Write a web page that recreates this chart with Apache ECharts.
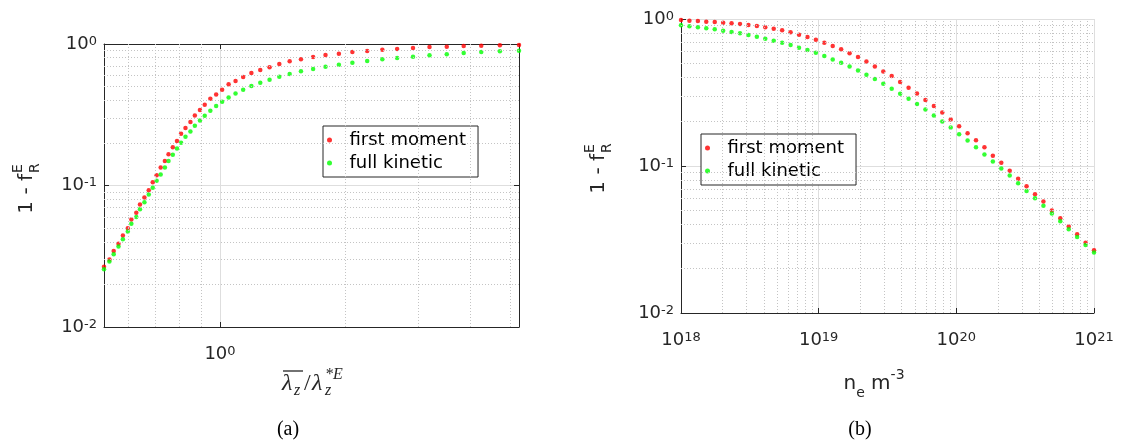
<!DOCTYPE html>
<html lang="en">
<head>
  <meta charset="UTF-8">
  <title>1 - f_R^E</title>
  <script src="https://cdn.jsdelivr.net/npm/echarts@6.0.0/dist/echarts.min.js"></script>
  <style>
    html, body { margin: 0; padding: 0; background: #fff; }
    #chart { width: 1122px; height: 443px; }
  </style>
</head>
<body>
<div id="chart"></div>
<script>
  // (a) horizontal axis: lambda_z bar / lambda_z*E
  const lamRatio = [0.526, 0.542, 0.555, 0.570, 0.584, 0.600, 0.612, 0.629, 0.642, 0.658,
    0.674, 0.689, 0.704, 0.720, 0.737, 0.752, 0.770, 0.788, 0.806, 0.826,
    0.849, 0.870, 0.895, 0.919, 0.948, 0.979, 1.012, 1.049, 1.090, 1.137,
    1.190, 1.250, 1.316, 1.389, 1.471, 1.566, 1.675, 1.794, 1.932, 2.082,
    2.260, 2.458, 2.668, 2.913, 3.192, 3.512, 3.857, 4.251, 4.713, 5.24];
  const lamFirst = [0.0267, 0.0300, 0.0345, 0.0387, 0.0443, 0.0499, 0.0575, 0.0641, 0.0734, 0.0823,
    0.0927, 0.1056, 0.1183, 0.1341, 0.1487, 0.1666, 0.1867, 0.2059, 0.2320, 0.2544,
    0.2806, 0.3128, 0.3412, 0.3722, 0.4104, 0.4404, 0.4753, 0.5184, 0.5472, 0.5842,
    0.6233, 0.6546, 0.6838, 0.7218, 0.7540, 0.7790, 0.8091, 0.8361, 0.8542, 0.8778,
    0.8922, 0.9118, 0.9219, 0.9369, 0.9523, 0.9574, 0.9679, 0.9732, 0.9785, 0.9838];
  const lamKinetic = [0.0256, 0.0290, 0.0327, 0.0370, 0.0417, 0.0473, 0.0536, 0.0600, 0.0680, 0.0762,
    0.0864, 0.0963, 0.1079, 0.1196, 0.1341, 0.1487, 0.1648, 0.1827, 0.2003, 0.2210,
    0.2410, 0.2644, 0.2884, 0.3112, 0.3375, 0.3641, 0.3908, 0.4195, 0.4476, 0.4753,
    0.5044, 0.5326, 0.5594, 0.5874, 0.6135, 0.6407, 0.6653, 0.6911, 0.7142, 0.7378,
    0.7582, 0.7790, 0.7961, 0.8135, 0.8317, 0.8452, 0.8636, 0.8778, 0.8874, 0.8970];

  // (b) horizontal axis: n_e (m^-3)
  const density = [1.000e18, 1.151e18, 1.326e18, 1.526e18, 1.758e18, 2.024e18, 2.330e18, 2.683e18, 3.089e18, 3.556e18,
    4.095e18, 4.715e18, 5.429e18, 6.251e18, 7.197e18, 8.286e18, 9.541e18, 1.099e19, 1.265e19, 1.456e19,
    1.677e19, 1.931e19, 2.223e19, 2.560e19, 2.947e19, 3.393e19, 3.907e19, 4.499e19, 5.179e19, 5.964e19,
    6.866e19, 7.906e19, 9.103e19, 1.048e20, 1.207e20, 1.389e20, 1.600e20, 1.842e20, 2.121e20, 2.442e20,
    2.812e20, 3.237e20, 3.728e20, 4.292e20, 4.942e20, 5.690e20, 6.551e20, 7.543e20, 8.685e20, 1.000e21];
  const denFirst = [0.9844, 0.9741, 0.9691, 0.9590, 0.9541, 0.9441, 0.9344, 0.9246, 0.9102, 0.8961,
    0.8774, 0.8594, 0.8373, 0.8113, 0.7822, 0.7540, 0.7231, 0.6903, 0.6548, 0.6214,
    0.5837, 0.5512, 0.5147, 0.4761, 0.4400, 0.4090, 0.3723, 0.3406, 0.3117, 0.2808,
    0.2556, 0.2313, 0.2073, 0.1867, 0.1673, 0.1499, 0.1344, 0.1173, 0.1051, 0.0927,
    0.0818, 0.0729, 0.0643, 0.0573, 0.0498, 0.0441, 0.0387, 0.0343, 0.0300, 0.0267];
  const denKinetic = [0.9055, 0.8914, 0.8774, 0.8638, 0.8504, 0.8328, 0.8156, 0.7988, 0.7780, 0.7582,
    0.7346, 0.7119, 0.6903, 0.6651, 0.6379, 0.6150, 0.5898, 0.5598, 0.5313, 0.5042,
    0.4761, 0.4471, 0.4176, 0.3902, 0.3627, 0.3354, 0.3101, 0.2867, 0.2637, 0.2425,
    0.2208, 0.2009, 0.1829, 0.1647, 0.1491, 0.1344, 0.1198, 0.1073, 0.0962, 0.0862,
    0.0764, 0.0677, 0.0604, 0.0536, 0.0475, 0.0421, 0.0371, 0.0329, 0.0290, 0.0258];

  const seriesNames = ['first moment', 'full kinetic'];

  // minor grid positions (log grid: 2..9 in each decade)
  const minorMult = [2, 3, 4, 5, 6, 7, 8, 9];
  const yDecades = [0.01, 0.1];
  const nDecades = [1e18, 1e19, 1e20];
  const lamMinor = [0.6, 0.7, 0.8, 0.9, 2, 3, 4, 5];

  const INK = '#262626';
  const FONT = 'DejaVu Sans';

  const zip = (xs, ys) => xs.map((x, i) => [x, ys[i]]);
  const minorOf = (decades) => decades.flatMap(d => minorMult.map(m => m * d));

  // 10^n tick labels
  const tickRich = {
    b: { fontSize: 18, lineHeight: 18, verticalAlign: 'bottom', color: INK, fontFamily: FONT },
    s: { fontSize: 13, lineHeight: 13, padding: [0, 0, 10, 0], verticalAlign: 'top', color: INK, fontFamily: FONT }
  };
  const powLabel = v => '{b|10}{s|' + Math.round(Math.log10(v)) + '}';

  function logAxis(gridIndex, min, max, pos, showLabel, formatter) {
    return {
      type: 'log',
      logBase: 10,
      gridIndex: gridIndex,
      position: pos,
      min: min,
      max: max,
      axisLine: { show: true, onZero: false, lineStyle: { color: INK, width: 1 } },
      axisTick: { show: true, inside: true, length: 5, lineStyle: { color: INK } },
      axisLabel: {
        show: showLabel,
        margin: (pos === 'left' || pos === 'right') ? 7 : 18,
        formatter: formatter || powLabel,
        rich: tickRich
      },
      splitLine: { show: showLabel, lineStyle: { color: '#dedede', width: 1 } },
      minorTick: { show: false },
      minorSplitLine: { show: false }
    };
  }

  const minorLine = { color: '#c4c4c4', width: 1, type: [1, 2] };
  function gridSeries(xi, yi, xs, ys) {
    return {
      type: 'line',
      xAxisIndex: xi,
      yAxisIndex: yi,
      data: [],
      silent: true,
      z: 1,
      markLine: {
        silent: true,
        symbol: 'none',
        animation: false,
        label: { show: false },
        lineStyle: minorLine,
        data: xs.map(v => ({ xAxis: v })).concat(ys.map(v => ({ yAxis: v })))
      }
    };
  }

  function dots(name, color, xi, yi, data) {
    return {
      name: name,
      type: 'scatter',
      xAxisIndex: xi,
      yAxisIndex: yi,
      symbol: 'circle',
      symbolSize: 4.5,
      z: 3,
      itemStyle: { color: color },
      data: data
    };
  }

  function legendAt(left, top) {
    return {
      data: seriesNames,
      orient: 'vertical',
      left: left,
      top: top,
      icon: 'circle',
      itemWidth: 30,
      itemHeight: 5,
      itemGap: 5,
      padding: [5, 12, 5, 4],
      borderColor: INK,
      borderWidth: 1,
      borderRadius: 0,
      backgroundColor: '#fff',
      selectedMode: false,
      textStyle: { fontSize: 18, color: '#000', fontFamily: FONT }
    };
  }

  function yTitle(cx, cy) {
    return {
      type: 'group', x: cx, y: cy, rotation: Math.PI / 2,
      children: [
        { type: 'text', x: 12, y: 0, style: { text: '1 - f', fontSize: 20, fontFamily: FONT, fill: INK, align: 'right', verticalAlign: 'middle' } },
        { type: 'text', x: 13, y: -9, style: { text: 'E', fontSize: 14, fontFamily: FONT, fill: INK, align: 'left', verticalAlign: 'middle' } },
        { type: 'text', x: 13, y: 8, style: { text: 'R', fontSize: 14, fontFamily: FONT, fill: INK, align: 'left', verticalAlign: 'middle' } }
      ]
    };
  }

  const serif = 'Liberation Serif';
  const chart = echarts.init(document.getElementById('chart'), null, { renderer: 'canvas' });
  chart.setOption({
    animation: false,
    backgroundColor: '#fff',
    grid: [
      { left: 104, top: 44, width: 415, height: 283 },
      { left: 681, top: 19, width: 413, height: 294 }
    ],
    xAxis: [
      logAxis(0, lamRatio[0], lamRatio[lamRatio.length - 1], 'bottom', true,
        v => Math.abs(Math.log10(v)) < 1e-6 ? powLabel(v) : ''),
      logAxis(0, lamRatio[0], lamRatio[lamRatio.length - 1], 'top', false),
      logAxis(1, 1e18, 1e21, 'bottom', true)
    ],
    yAxis: [
      logAxis(0, 0.01, 1, 'left', true),
      logAxis(0, 0.01, 1, 'right', false),
      logAxis(1, 0.01, 1, 'left', true)
    ],
    legend: [legendAt(323, 126), legendAt(701, 134)],
    series: [
      gridSeries(0, 0, lamMinor, minorOf(yDecades)),
      dots(seriesNames[0], '#ff0000', 0, 0, zip(lamRatio, lamFirst)),
      dots(seriesNames[1], '#00ff00', 0, 0, zip(lamRatio, lamKinetic)),
      gridSeries(2, 2, minorOf(nDecades), minorOf(yDecades)),
      dots(seriesNames[0], '#ff0000', 2, 2, zip(density, denFirst)),
      dots(seriesNames[1], '#00ff00', 2, 2, zip(density, denKinetic))
    ],
    graphic: [
      yTitle(27, 186),
      yTitle(599, 166),
      {
        type: 'group', x: 282, y: 384,
        children: [
          { type: 'line', shape: { x1: 1, y1: -13, x2: 21, y2: -13 }, style: { stroke: INK, lineWidth: 1.3 } },
          { type: 'text', x: 0, y: 0, style: { text: 'λ', fontSize: 24, fontStyle: 'italic', fontFamily: serif, fill: INK, verticalAlign: 'middle' } },
          { type: 'text', x: 12, y: 7, style: { text: 'z', fontSize: 16, fontStyle: 'italic', fontFamily: serif, fill: INK, verticalAlign: 'middle' } },
          { type: 'text', x: 22, y: 0, style: { text: '/', fontSize: 24, fontFamily: serif, fill: INK, verticalAlign: 'middle' } },
          { type: 'text', x: 30, y: 0, style: { text: 'λ', fontSize: 24, fontStyle: 'italic', fontFamily: serif, fill: INK, verticalAlign: 'middle' } },
          { type: 'text', x: 43, y: -9, style: { text: '*E', fontSize: 16, fontStyle: 'italic', fontFamily: serif, fill: INK, verticalAlign: 'middle' } },
          { type: 'text', x: 43, y: 7, style: { text: 'z', fontSize: 16, fontStyle: 'italic', fontFamily: serif, fill: INK, verticalAlign: 'middle' } }
        ]
      },
      {
        type: 'text', x: 874, y: 384,
        style: {
          text: 'n{sub|e} m{sup|-3}',
          fontSize: 20, fontFamily: FONT, fill: INK, lineHeight: 32,
          align: 'center', verticalAlign: 'middle',
          rich: {
            sub: { fontSize: 14, lineHeight: 14, verticalAlign: 'bottom', fontFamily: FONT, fill: INK },
            sup: { fontSize: 14, lineHeight: 14, verticalAlign: 'top', fontFamily: FONT, fill: INK }
          }
        }
      },
      { type: 'text', x: 288, y: 430, style: { text: '(a)', fontSize: 20, fontFamily: serif, fill: '#000', align: 'center', verticalAlign: 'middle' } },
      { type: 'text', x: 860, y: 430, style: { text: '(b)', fontSize: 20, fontFamily: serif, fill: '#000', align: 'center', verticalAlign: 'middle' } }
    ]
  });
</script>
</body>
</html>
